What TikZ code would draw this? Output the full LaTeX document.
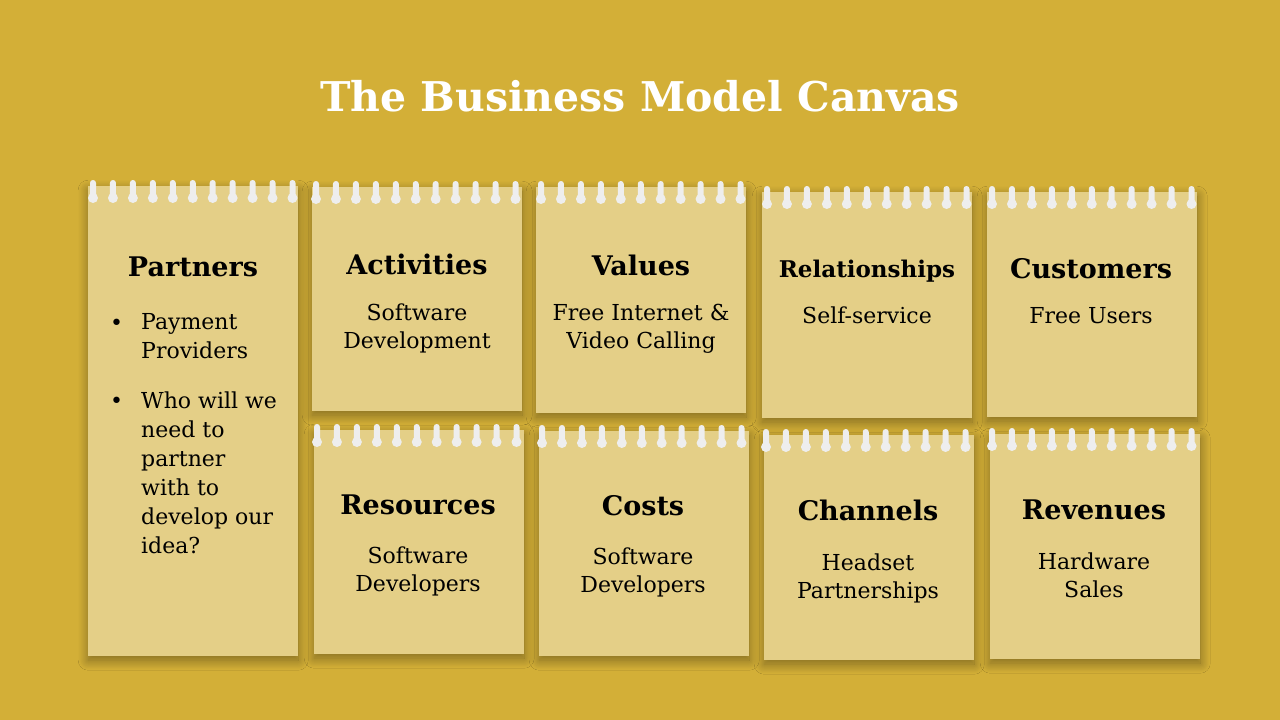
\documentclass[tikz,border=0pt]{standalone}
\usepackage{fontspec}
\setmainfont{DejaVu Serif}
\usetikzlibrary{calc,shadows.blur}
\definecolor{bgc}{RGB}{211,175,55}
\definecolor{paperc}{RGB}{228,207,135}
\definecolor{ringc}{RGB}{238,238,238}
\tikzset{
  paper/.style={fill=paperc, draw=none, inner sep=0pt, anchor=north west,
    blur shadow={shadow xshift=0pt, shadow yshift=-4pt, shadow blur radius=10pt, shadow opacity=40, shadow blur steps=20}},
  head/.style={anchor=base, inner sep=0pt, font=\fontsize{27}{32}\selectfont\bfseries},
  smallhead/.style={anchor=base, inner sep=0pt, font=\fontsize{23}{26}\selectfont\bfseries},
  body/.style={anchor=base, inner sep=0pt, align=center, font=\fontsize{22}{28}\selectfont},
  bodyl/.style={anchor=base west, inner sep=0pt, align=left, font=\fontsize{22}{29}\selectfont},
  titletext/.style={anchor=base, inner sep=0pt, text=white, font=\fontsize{41}{50}\selectfont\bfseries},
}
\newcommand\notepaper[6]{% name, left, top, width, height, ring offset
  \node[paper, minimum width=#4pt, minimum height=#5pt] (#1) at (#2,#3) {};
  \foreach \i in {0,...,10}{
    \path (#1.north west) ++(#6+19.95*\i,0) coordinate (r#1\i);
    \fill[ringc, rounded corners=2.9pt] ($(r#1\i)+(-3,-6)$) rectangle ($(r#1\i)+(3,12)$);
    \fill[ringc] ($(r#1\i)+(0,12)$) circle (5pt);
  }
}
\begin{document}
\begin{tikzpicture}[x=1pt,y=-1pt]
\fill[bgc] (0,0) rectangle (1280,720);
\useasboundingbox (0,0) rectangle (1280,720);
\node[titletext] (title) at (640,111) {The Business Model Canvas};
% notes
\notepaper{partners}{88}{186}{210}{470}{5}
\notepaper{activities}{312}{187}{210}{224}{4}
\notepaper{values}{536}{187}{210}{226}{5}
\notepaper{relationships}{762}{192}{210}{226}{5}
\notepaper{customers}{987}{192}{210}{225}{5}
\notepaper{resources}{314}{430}{210}{224}{3}
\notepaper{costs}{539}{431}{210}{225}{3}
\notepaper{channels}{764}{435}{210}{225}{2}
\notepaper{revenues}{990}{434}{210}{225}{2}
% Partners (multi-line nodes: base = last line's baseline)
\node[head] (h1) at (193,276) {Partners};
\node[bodyl] (b1) at (110,330) {•};
\node[bodyl] (t1) at (141,358) {Payment\\Providers};
\node[bodyl] (b2) at (110,408) {•};
\node[bodyl] (t2) at (141,553) {Who will we\\need to\\partner\\with to\\develop our\\idea?};
% Activities
\node[head] (h2) at (417,274) {Activities};
\node[body] (t3) at (417,348) {Software\\Development};
% Values
\node[head] (h3) at (641,275) {Values};
\node[body] (t4) at (641,348) {Free Internet \&\\Video Calling};
% Relationships
\node[smallhead] (h4) at (867,277) {Relationships};
\node[body] (t5) at (867,323) {Self-service};
% Customers
\node[head] (h5) at (1091,278) {Customers};
\node[body] (t6) at (1091,323) {Free Users};
% Resources
\node[head] (h6) at (418,514) {Resources};
\node[body] (t7) at (418,591) {Software\\Developers};
% Costs
\node[head] (h7) at (643,515) {Costs};
\node[body] (t8) at (643,592) {Software\\Developers};
% Channels
\node[head] (h8) at (868,520) {Channels};
\node[body] (t9) at (868,598) {Headset\\Partnerships};
% Revenues
\node[head] (h9) at (1094,519) {Revenues};
\node[body] (t10) at (1094,597) {Hardware\\Sales};
\end{tikzpicture}
\end{document}
